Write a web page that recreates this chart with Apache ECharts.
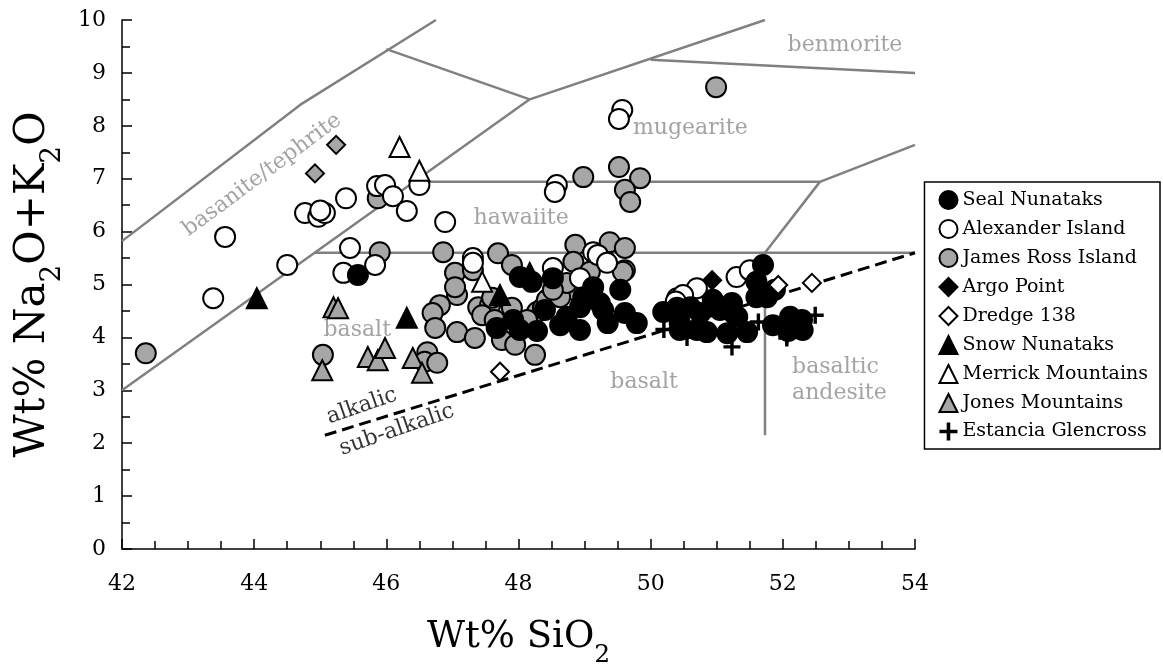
<!DOCTYPE html>
<html>
<head>
<meta charset="utf-8">
<script src="https://cdn.jsdelivr.net/npm/echarts@6/dist/echarts.min.js"></script>
<style>
  html, body { margin: 0; padding: 0; background: #fff; }
  #chart { width: 1163px; height: 669px; }
</style>
</head>
<body>
<div id="chart"></div>
<script>
// ---- Sample data: [SiO2 wt%, Na2O+K2O wt%] ----
const sealNunataks = [
  [45.57,5.18],[48.02,5.14],[48.2,5.05],[48.52,5.12],[47.67,4.18],[48.02,4.14],[48.28,4.12],
  [47.92,4.33],[48.73,4.39],[48.98,4.76],[49.13,4.95],[49.54,4.9],[49.23,4.65],[48.93,4.57],
  [49.28,4.52],[48.93,4.14],[49.35,4.27],[49.61,4.46],[49.79,4.27],[48.63,4.23],[48.4,4.52],
  [50.19,4.48],[50.4,4.56],[50.44,4.27],[50.6,4.57],[50.44,4.14],[50.7,4.14],[50.85,4.1],
  [50.75,4.46],[50.94,4.71],[51.05,4.52],[51.23,4.65],[51.25,4.46],[51.31,4.39],[51.16,4.08],
  [51.46,4.1],[51.6,4.76],[51.6,5.05],[51.7,5.37],[51.76,4.76],[51.88,4.9],[51.85,4.23],
  [52.11,4.39],[52.3,4.14],[52.29,4.33],[52.08,4.12]
];
const alexanderIsland = [
  [43.38,4.74],[43.56,5.9],[44.5,5.37],[44.77,6.35],[44.97,6.28],[45.07,6.35],[45.0,6.4],
  [45.39,6.63],[45.45,5.69],[45.35,5.22],[45.83,5.37],[45.86,6.86],[45.98,6.88],[46.1,6.67],
  [46.31,6.39],[46.5,6.88],[46.89,6.18],[47.31,5.5],[47.31,5.41],[48.58,6.88],[48.55,6.75],
  [49.57,8.3],[49.52,8.13],[48.52,5.31],[48.93,5.12],[49.13,5.61],[49.2,5.56],[49.34,5.41],
  [50.4,4.74],[50.52,4.78],[50.7,4.93],[50.49,4.8],[50.38,4.68],[51.3,5.14],[51.5,5.27]
];
const jamesRossIsland = [
  [42.36,3.7],[45.04,3.67],[45.87,6.63],[45.9,5.61],[46.86,5.61],[47.04,5.22],[47.07,4.8],
  [47.04,4.95],[46.81,4.61],[46.7,4.46],[46.74,4.18],[47.07,4.1],[47.34,3.99],[46.62,3.72],
  [46.58,3.54],[46.77,3.52],[47.31,5.27],[47.69,5.59],[47.9,5.37],[47.39,4.57],[47.57,4.61],
  [47.9,4.56],[48.28,4.48],[47.75,3.95],[47.95,3.86],[48.25,3.67],[48.83,4.9],[48.48,4.76],
  [48.86,5.75],[49.38,5.8],[49.61,5.69],[49.61,5.27],[48.83,5.43],[49.08,5.24],[49.58,5.24],
  [50.99,8.73],[49.52,7.22],[49.84,7.01],[49.61,6.79],[49.69,6.56],[48.98,7.03],
  [47.45,4.42],[47.64,4.33],[48.13,4.33],[48.37,4.56],[48.43,4.71],[48.63,4.76],[48.73,5.03],
  [48.52,4.9],[47.6,4.75]
];
const argoPoint = [[50.93,5.08]];
const argoPointGrey = [[44.92,7.1],[45.24,7.64]];
const dredge138 = [[47.72,3.35],[51.93,4.99],[52.44,5.03]];
const snowNunataks = [[44.04,4.74],[46.31,4.37],[47.72,4.8],[48.17,5.22]];
const merrickMountains = [[46.2,7.6],[46.5,7.15],[47.45,5.05]];
const jonesMountains = [[45.2,4.57],[45.27,4.55],[45.03,3.38],[45.72,3.63],[45.87,3.57],[45.98,3.8],[46.4,3.61],[46.54,3.33]];
const estanciaGlencross = [[50.55,4.0],[50.2,4.15],[51.23,3.82],[51.63,4.29],[52.06,4.05],[52.49,4.42],[52.06,3.99]];

// ---- Classification field boundaries ----
const fieldBoundaries = [
  [[42,5.82],[44.7,8.4],[46.75,10]],
  [[42,3.0],[48.17,8.5],[51.73,10]],
  [[46.0,9.45],[48.17,8.5]],
  [[50.0,9.25],[54,9.0]],
  [[44.92,5.6],[54,5.6]],
  [[46.42,6.94],[52.56,6.94],[54,7.64]],
  [[51.73,2.15],[51.73,5.6],[52.56,6.94]]
];
const alkalineDivide = [[45.07,2.15],[54,5.6]];

// ---- Field names ----
const fieldNames = [
  { name: 'benmorite', at: [52.94,9.53], rotate: 0, color: '#8c8c8c', align: 'center' },
  { name: 'mugearite', at: [50.6,7.96], rotate: 0, color: '#8c8c8c', align: 'center' },
  { name: 'hawaiite', at: [48.04,6.26], rotate: 0, color: '#8c8c8c', align: 'center' },
  { name: 'basanite/tephrite', at: [44.12,7.07], rotate: 36.5, color: '#8c8c8c', align: 'center' },
  { name: 'basalt', at: [45.56,4.14], rotate: 0, color: '#8c8c8c', align: 'center' },
  { name: 'basalt', at: [49.9,3.16], rotate: 0, color: '#8c8c8c', align: 'center' },
  { name: 'basaltic\nandesite', at: [52.14,3.19], rotate: 0, color: '#8c8c8c', align: 'left' },
  { name: 'alkalic', at: [45.63,2.7], rotate: 19, color: '#000', align: 'center' },
  { name: 'sub-alkalic', at: [46.16,2.25], rotate: 19, color: '#000', align: 'center' }
];

const xTicks = { min: 42, max: 54, step: 2 };
const yTicks = { min: 0, max: 10, step: 1 };

const FONT = 'DejaVu Serif';
const chart = echarts.init(document.getElementById('chart'), null, { renderer: 'canvas' });

function pts(name, data, symbol, size, fill, border, z) {
  return {
    name, type: 'scatter', data, symbol, symbolSize: size, z,
    itemStyle: { color: fill, borderColor: border, borderWidth: border ? 2 : 0, opacity: 1 },
    emphasis: { disabled: true }
  };
}
const PLUS = 'path://M4,0h2v4h4v2h-4v4h-2v-4h-4v-2h4z';

const series = [];
fieldBoundaries.forEach(c => series.push({
  type: 'line', data: c, symbol: 'none', silent: true, z: 1,
  lineStyle: { color: '#808080', width: 2.5 }
}));
series.push({
  type: 'line', data: alkalineDivide, symbol: 'none', silent: true, z: 2,
  lineStyle: { color: '#000', width: 3, type: [12, 6] }
});
series.push({
  type: 'scatter', silent: true, z: 3, symbolSize: 0,
  data: fieldNames.map(f => ({
    value: f.at,
    label: { show: true, position: 'inside', formatter: f.name, rotate: f.rotate, color: f.color, align: f.align }
  })),
  label: { fontFamily: FONT, fontSize: 22, lineHeight: 26 }
});
series.push(pts('James Ross Island', jamesRossIsland, 'circle', 20, '#a6a6a6', '#000', 5));
series.push(pts('Alexander Island', alexanderIsland, 'circle', 20, '#fff', '#000', 6));
series.push(pts('Seal Nunataks', sealNunataks, 'circle', 20, '#000', '#000', 7));
series.push(pts('Jones Mountains', jonesMountains, 'triangle', 20, '#a6a6a6', '#000', 8));
series.push(pts('Snow Nunataks', snowNunataks, 'triangle', 20, '#000', '#000', 8));
series.push(pts('Merrick Mountains', merrickMountains, 'triangle', 20, '#fff', '#000', 9));
series.push(pts('Argo Point', argoPoint, 'diamond', 18, '#000', '#000', 9));
series.push(pts('Argo Point (grey)', argoPointGrey, 'diamond', 18, '#a6a6a6', '#000', 9));
series.push(pts('Dredge 138', dredge138, 'diamond', 18, '#fff', '#000', 9));
series.push(pts('Estancia Glencross', estanciaGlencross, PLUS, 17, '#000', null, 10));

const legendOrder = ['Seal Nunataks','Alexander Island','James Ross Island','Argo Point','Dredge 138',
  'Snow Nunataks','Merrick Mountains','Jones Mountains','Estancia Glencross'];

const subStyle = (size, drop) => ({ fontFamily: FONT, fontSize: size, verticalAlign: 'bottom', lineHeight: size, padding: [0, 0, -drop, 0] });

chart.setOption({
  animation: false,
  backgroundColor: '#fff',
  textStyle: { fontFamily: FONT },
  grid: { left: 122, right: 248, top: 20, bottom: 120, outerBoundsMode: 'none', containLabel: false },
  legend: {
    data: legendOrder, orient: 'vertical', right: 3, top: 182,
    borderColor: '#000', borderWidth: 1.5, padding: [8, 12, 8, 14],
    itemWidth: 18, itemHeight: 18, itemGap: 9,
    textStyle: { fontFamily: FONT, fontSize: 19, color: '#000' },
    selectedMode: false
  },
  xAxis: {
    type: 'value', min: xTicks.min, max: xTicks.max, interval: xTicks.step,
    axisLine: { lineStyle: { color: '#000', width: 1.5 } },
    axisTick: { inside: true, length: 10, lineStyle: { color: '#000', width: 1.5 } },
    minorTick: { show: true, splitNumber: 4, length: 8, lineStyle: { color: '#000', width: 1.5 } },
    splitLine: { show: false },
    axisLabel: { fontFamily: FONT, fontSize: 22, color: '#000', margin: 24 },
    name: 'Wt% SiO{s|2}', nameLocation: 'middle', nameGap: 63,
    nameTextStyle: {
      fontFamily: FONT, fontSize: 37, color: '#000', verticalAlign: 'top', lineHeight: 50,
      rich: { s: subStyle(25, 6) }
    }
  },
  yAxis: {
    type: 'value', min: yTicks.min, max: yTicks.max, interval: yTicks.step,
    axisLine: { show: true, lineStyle: { color: '#000', width: 1.5 } },
    axisTick: { show: true, inside: true, length: 10, lineStyle: { color: '#000', width: 1.5 } },
    minorTick: { show: true, splitNumber: 2, length: 8, lineStyle: { color: '#000', width: 1.5 } },
    splitLine: { show: false },
    axisLabel: { fontFamily: FONT, fontSize: 22, color: '#000', margin: 16 },
    name: 'Wt% Na{s|2}O+K{s|2}O', nameLocation: 'middle', nameGap: 60, nameRotate: 90,
    nameTextStyle: {
      fontFamily: FONT, fontSize: 42, color: '#000', lineHeight: 54,
      rich: { s: subStyle(28, 7) }
    }
  },
  series
});
</script>
</body>
</html>
